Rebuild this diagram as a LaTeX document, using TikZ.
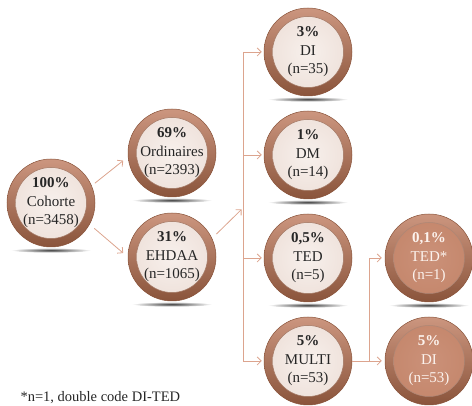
\documentclass[tikz,border=0pt]{standalone}
\usepackage{fontspec}
\setmainfont{Liberation Serif}
\usetikzlibrary{arrows.meta,backgrounds,calc}

\definecolor{brunclair}{HTML}{CC967F}
\definecolor{brunfonce}{HTML}{8A543B}
\definecolor{creme}{HTML}{F7F0EC}
\definecolor{cremebord}{HTML}{EEE0D9}
\definecolor{saumon}{HTML}{C4866B}
\definecolor{saumonclair}{HTML}{CB9179}
\definecolor{fleche}{HTML}{DCA48E}
\definecolor{texte}{HTML}{262626}
\definecolor{blanc}{HTML}{FCF3EE}

\tikzset{
  bulle/.style={circle, minimum size=88pt, inner sep=0pt, align=center,
    font=\fontsize{15}{18.5}\selectfont, text=texte,
    top color=brunclair, bottom color=brunfonce, draw=brunfonce, line width=0.5pt,
    path picture={\shade[inner color=creme, outer color=cremebord, draw=brunfonce!80, line width=0.5pt]
      (path picture bounding box.center) circle (35.5pt);}},
  bulleplein/.style={bulle, text=blanc,
    path picture={\shade[inner color=saumonclair, outer color=saumon, draw=brunfonce!70, line width=0.5pt]
      (path picture bounding box.center) circle (35.5pt);}},
  fl/.style={draw=fleche, line width=0.8pt, -{Straight Barb[length=4pt,width=8pt]}},
  ombre/.style={inner color=black!75, outer color=white},
}

\begin{document}
\begin{tikzpicture}[x=1pt,y=1pt]
  \useasboundingbox (0,0) rectangle (472,406);

  % niveau 1 et 2
  \node[bulle] (coh) at (51,203) {\textbf{100\%}\\Cohorte\\(n=3458)};
  \node[bulle] (ord) at (172,253) {\textbf{69\%}\\Ordinaires\\(n=2393)};
  \node[bulle] (ehd) at (172,149) {\textbf{31\%}\\EHDAA\\(n=1065)};

  % EHDAA
  \node[bulle] (di) at (308,354) {\textbf{3\%}\\DI\\(n=35)};
  \node[bulle] (dm) at (308,251) {\textbf{1\%}\\DM\\(n=14)};
  \node[bulle] (ted) at (308,148) {\textbf{0,5\%}\\TED\\(n=5)};
  \node[bulle] (multi) at (308,45) {\textbf{5\%}\\MULTI\\(n=53)};

  % MULTI
  \node[bulleplein] (tedx) at (429,148) {\textbf{0,1\%}\\TED*\\(n=1)};
  \node[bulleplein] (di5) at (429,45) {\textbf{5\%}\\DI\\(n=53)};

  % ombres
  \begin{scope}[on background layer]
    \foreach \n in {coh,ord,ehd,di,dm,ted,multi,tedx,di5}
      \shade[ombre] ($(\n.south)+(0,-3)$) ellipse (40pt and 2.5pt);
  \end{scope}

  % fleches
  \coordinate (tronc) at (243,198);
  \coordinate (tronc2) at (369,0);
  \draw[fl, shorten <=4pt, shorten >=6pt] (coh.23) -- (ord.185);
  \draw[fl, shorten <=6pt, shorten >=6pt] (coh.-29) -- (ehd.180);
  \draw[fl, shorten <=6pt, shorten >=2pt] (ehd.25) -- (tronc);
  \draw[draw=fleche, line width=0.8pt] (tronc |- di) -- (tronc |- multi);
  \foreach \n in {di,dm,ted,multi}
    \draw[fl, shorten >=2pt] (tronc |- \n) -- (\n.west);
  \draw[fl, shorten >=3pt] (multi.east) -- (di5.west);
  \draw[fl, shorten >=3pt] (tronc2 |- multi) |- (tedx.west);

  \node[anchor=base west, font=\fontsize{14.5}{17}\selectfont, text=texte] (note) at (17,4) {*n=1, double code DI-TED};
\end{tikzpicture}
\end{document}
